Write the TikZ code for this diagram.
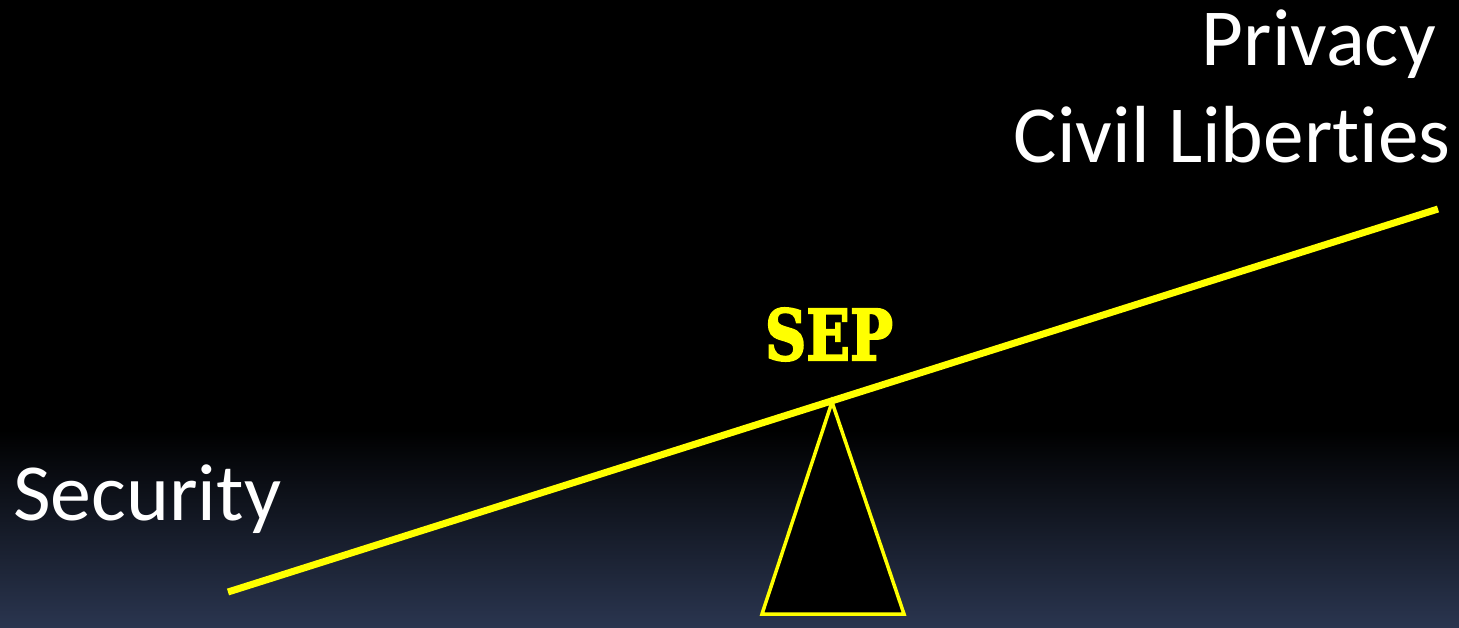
\documentclass[tikz,border=0pt]{standalone}
\usepackage{fontspec}
\setmainfont[Ligatures=NoCommon]{Carlito}
\newfontfamily\sepfont[BoldFeatures={FakeBold=3}]{DejaVu Serif}
\usepackage{graphicx}
\definecolor{bgbottom}{RGB}{42,53,79}
\definecolor{beamyellow}{RGB}{255,255,0}
\tikzset{
  label text/.style={inner sep=0pt, text=white, font=\fontsize{81}{81}\selectfont},
  beam/.style={draw=beamyellow, line width=7pt},
  fulcrum/.style={draw=beamyellow, fill=black, line width=3.5pt, line join=miter},
}
\begin{document}
\begin{tikzpicture}[x=1pt,y=-1pt]
\useasboundingbox (0,0) rectangle (1459,627);
\fill[black] (0,0) rectangle (1459,431);
\shade[top color=black, bottom color=bgbottom] (0,430) rectangle (1459,627);
% texts
\node[label text, anchor=base east] (privacy) at (1436,65) {\resizebox{234pt}{\height}{Privacy}};
\node[label text, anchor=base east] (civil) at (1451,162) {\resizebox{437pt}{\height}{Civil Liberties}};
\node[label text, anchor=base west] (security) at (13,520) {\resizebox{268pt}{\height}{Security}};
\node[inner sep=0pt, text=beamyellow, anchor=base] (sep) at (829,360) {\resizebox{128pt}{52pt}{\sepfont\bfseries SEP}};
% fulcrum
\coordinate (apex) at (832,402);
\coordinate (bl) at (762,614);
\coordinate (br) at (904,614);
\draw[fulcrum] (apex) -- (br) -- (bl) -- cycle;
% beam
\coordinate (left) at (228,592);
\coordinate (right) at (1438,209);
\draw[beam] (left) -- (right);
\end{tikzpicture}
\end{document}
